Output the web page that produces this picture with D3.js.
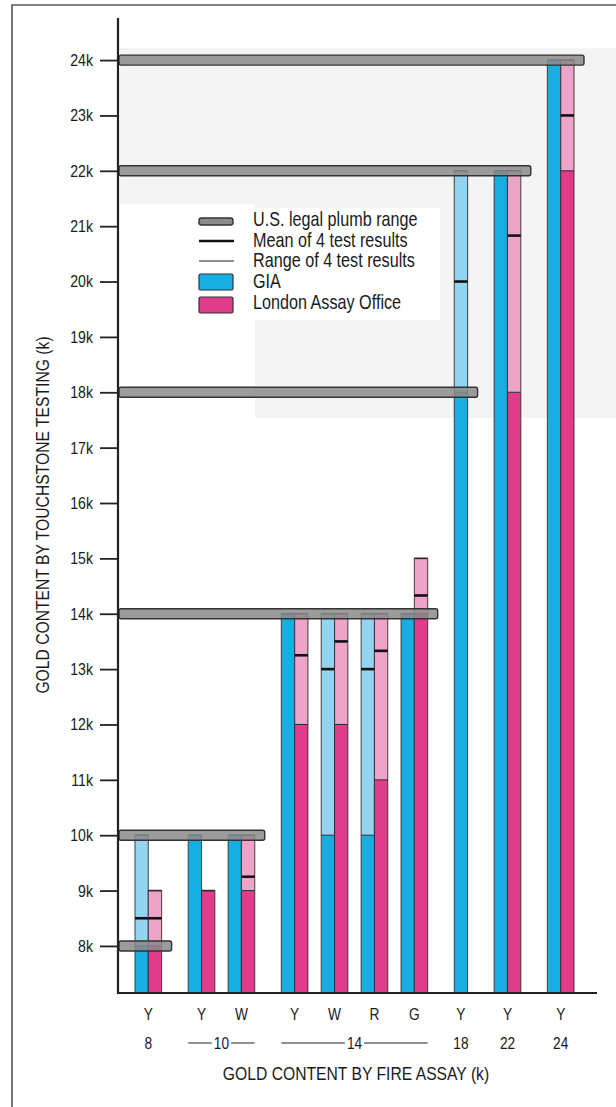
<!DOCTYPE html>
<html><head><meta charset="utf-8">
<script src="https://cdn.jsdelivr.net/npm/d3@7"></script>
<style>
body{margin:0;background:#fff}
svg{display:block}
text{font-family:"Liberation Sans",Arial,Helvetica,sans-serif;fill:#1a1a1a}
</style>
</head><body>
<svg id="c" width="616" height="1107"></svg>
<script>
// ---- data ----
const categories   = ["8Y","10Y","10W","14Y","14W","14R","14G","18Y","22Y","24Y"];
const karats       = [8,10,10,14,14,14,14,18,22,24];
const alloyLabels  = ["Y","Y","W","Y","W","R","G","Y","Y","Y"];
const giaLow       = [8,10,10,14,10,10,14,18,22,24];
const giaMean      = [8.5,10,10,14,13,13,14,20,22,24];
const giaHigh      = [10,10,10,14,14,14,14,22,22,24];
const londonLow    = [8,9,9,12,12,11,14,null,18,22];
const londonMean   = [8.5,9,9.25,13.25,13.5,13.33,14.33,null,20.83,23];
const londonHigh   = [9,9,10,14,14,14,15,null,22,24];
const plumbKarats  = [8,10,14,18,22,24];
const yTicks       = [8,9,10,11,12,13,14,15,16,17,18,19,20,21,22,23,24];
const legendLabels = ["U.S. legal plumb range","Mean of 4 test results","Range of 4 test results","GIA","London Assay Office"];

const colors = {
  giaSolid:"#17aee2", giaLight:"#93d5f1",
  lonSolid:"#e13b8b", lonLight:"#eea3c9",
  plumb:"#8b8b8b", ink:"#2b2b2b"
};
const SX = 0.83; // condensed type

const svg = d3.select("#c");
function ctext(parent, x, yy, str, size, anchor, extra){
  return parent.append("text")
    .attr("transform",`translate(${x},${yy})${extra||""} scale(${SX},1)`)
    .attr("text-anchor",anchor||"start").attr("font-size",size).text(str);
}

// background (scan tone)
const bg = svg.append("g").attr("fill","#f4f4f4");
bg.append("rect").attr("x",120).attr("y",48).attr("width",496).attr("height",156);
bg.append("rect").attr("x",255).attr("y",204).attr("width",361).attr("height",214);

// frame
svg.append("path").attr("d","M12,1107V5H616").attr("fill","none").attr("stroke","#555").attr("stroke-width",1.6);

// ---- scales ----
const y = d3.scaleLinear().domain([7.15,24.76]).range([993,18]);
const base = y.domain()[0];

// layout units: bar = 1, gap inside karat group = 1, gap between karat groups = 2
const layout = [];
let u = 0;
categories.forEach((c,i)=>{
  if(i>0) u += (karats[i]===karats[i-1]) ? 1 : 2;
  const bars = [{series:"gia",low:giaLow[i],mean:giaMean[i],high:giaHigh[i]}];
  if(londonLow[i]!==null) bars.push({series:"lon",low:londonLow[i],mean:londonMean[i],high:londonHigh[i]});
  bars.forEach((b,j)=>{b.u = u + j;});
  layout.push({cat:c,karat:karats[i],alloy:alloyLabels[i],start:u,end:u+bars.length,bars});
  u += bars.length;
});
const x = d3.scaleLinear().domain([0,u]).range([135,574]);
const bw = x(1)-x(0);

// ---- bars ----
const gBars = svg.append("g");
layout.forEach(cat=>{
  cat.bars.forEach(b=>{
    const solid = b.series==="gia"?colors.giaSolid:colors.lonSolid;
    const light = b.series==="gia"?colors.giaLight:colors.lonLight;
    const x0 = x(b.u);
    gBars.append("rect").attr("x",x0).attr("width",bw)
      .attr("y",y(b.low)).attr("height",y(base)-y(b.low)).attr("fill",solid);
    if(b.high>b.low){
      gBars.append("rect").attr("x",x0).attr("width",bw)
        .attr("y",y(b.high)).attr("height",y(b.low)-y(b.high)).attr("fill",light);
    }
    gBars.append("rect").attr("x",x0).attr("width",bw)
      .attr("y",y(b.high)).attr("height",y(base)-y(b.high))
      .attr("fill","none").attr("stroke",colors.ink).attr("stroke-width",1.1).attr("stroke-opacity",0.8);
    gBars.append("line").attr("x1",x0).attr("x2",x0+bw).attr("y1",y(b.high)).attr("y2",y(b.high))
      .attr("stroke",colors.ink).attr("stroke-width",1.6);
    if(b.high>b.low){
      gBars.append("line").attr("x1",x0).attr("x2",x0+bw).attr("y1",y(b.low)).attr("y2",y(b.low))
        .attr("stroke",colors.ink).attr("stroke-width",1);
      gBars.append("line").attr("x1",x0).attr("x2",x0+bw).attr("y1",y(b.mean)).attr("y2",y(b.mean))
        .attr("stroke","#111").attr("stroke-width",2.6);
    }
  });
});

// ---- plumb ranges ----
const gPl = svg.append("g");
plumbKarats.forEach(k=>{
  const last = layout.filter(c=>c.karat===k).pop();
  const right = x(last.end)+10;
  gPl.append("rect").attr("x",119).attr("width",right-119)
    .attr("y",y(k)-5).attr("height",10).attr("rx",2)
    .attr("fill",colors.plumb).attr("fill-opacity",0.85)
    .attr("stroke","#333").attr("stroke-width",1.4);
});

// ---- axes ----
const yAxis = d3.axisLeft(y).tickValues(yTicks).tickSize(18).tickPadding(7).tickFormat(d=>d+"k");
const gy = svg.append("g").attr("transform","translate(118,0)").call(yAxis);
gy.select(".domain").remove();
gy.selectAll(".tick line").attr("stroke","#222").attr("stroke-width",1.8);
gy.selectAll(".tick text").attr("font-size",17).attr("fill","#1a1a1a")
  .attr("x",-25/SX).attr("transform",`scale(${SX},1)`);
svg.append("line").attr("x1",118).attr("x2",118).attr("y1",18).attr("y2",994)
  .attr("stroke","#222").attr("stroke-width",2.2);
svg.append("line").attr("x1",117).attr("x2",597).attr("y1",993).attr("y2",993)
  .attr("stroke","#222").attr("stroke-width",2.2);

// category labels
layout.forEach(c=>{
  ctext(svg,(x(c.start)+x(c.end))/2,1020,c.alloy,16.5,"middle");
});
// karat labels
const kGroups = d3.groups(layout,d=>d.karat);
kGroups.forEach(([k,cats])=>{
  const x0 = x(cats[0].start), x1 = x(cats[cats.length-1].end);
  const cx = (x0+x1)/2;
  const t = ctext(svg,cx,1049,k,16.5,"middle");
  if(cats.length>1){
    const w = t.node().getComputedTextLength()*SX/2 + 2;
    svg.append("line").attr("x1",x0).attr("x2",cx-w).attr("y1",1043).attr("y2",1043).attr("stroke","#222").attr("stroke-width",1);
    svg.append("line").attr("x1",cx+w).attr("x2",x1).attr("y1",1043).attr("y2",1043).attr("stroke","#222").attr("stroke-width",1);
  }
});
// axis titles
ctext(svg,356,1080,"GOLD CONTENT BY FIRE ASSAY (k)",18.9,"middle");
ctext(svg,0,0,"GOLD CONTENT BY TOUCHSTONE TESTING (k)",18.9,"middle")
  .attr("transform",`translate(49,515) rotate(-90) scale(${SX},1)`);

// ---- legend ----
const lg = svg.append("g");
lg.append("rect").attr("x",155).attr("y",208).attr("width",285).attr("height",112).attr("fill","#fff");
const ly = [226,246.5,267,288,309];
lg.append("rect").attr("x",199).attr("y",218).attr("width",34).attr("height",7).attr("rx",2.5)
  .attr("fill",colors.plumb).attr("stroke","#333").attr("stroke-width",1.4);
lg.append("line").attr("x1",199).attr("x2",234).attr("y1",241).attr("y2",241).attr("stroke","#111").attr("stroke-width",2.6);
lg.append("line").attr("x1",199).attr("x2",234).attr("y1",261).attr("y2",261).attr("stroke","#222").attr("stroke-width",1.1);
lg.append("rect").attr("x",199).attr("y",274).attr("width",34).attr("height",16).attr("rx",1.5)
  .attr("fill",colors.giaSolid).attr("stroke","#333").attr("stroke-width",1.2);
lg.append("rect").attr("x",199).attr("y",297).attr("width",34).attr("height",16).attr("rx",1.5)
  .attr("fill",colors.lonSolid).attr("stroke","#333").attr("stroke-width",1.2);
legendLabels.forEach((t,i)=>{
  ctext(lg,253,ly[i],t,19.5,"start");
});
</script>
</body></html>
